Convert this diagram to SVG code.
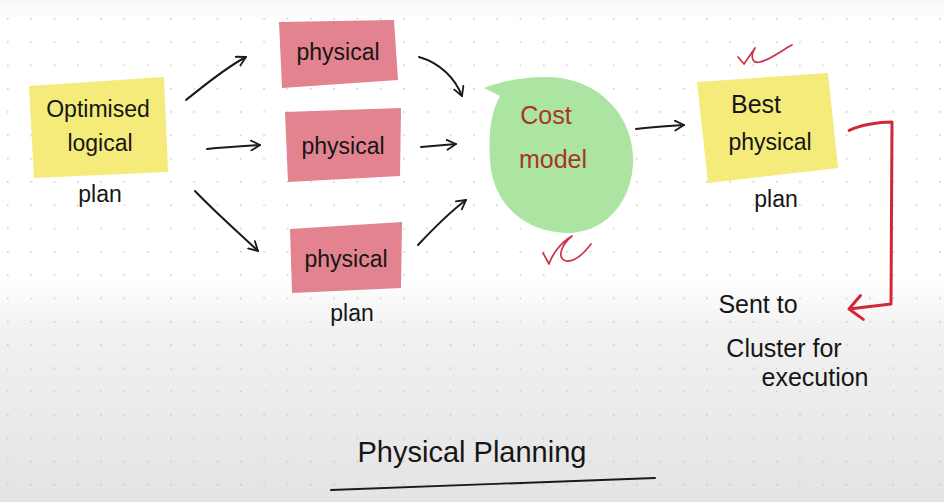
<svg xmlns="http://www.w3.org/2000/svg" width="944" height="502" viewBox="0 0 944 502">
<defs>
<linearGradient id="bg" x1="0" y1="0" x2="0" y2="1">
<stop offset="0" stop-color="#f7f7f7"/>
<stop offset="0.04" stop-color="#ffffff"/>
<stop offset="0.56" stop-color="#ffffff"/>
<stop offset="0.66" stop-color="#f1f1f1"/>
<stop offset="1" stop-color="#e4e4e4"/>
</linearGradient>
<pattern id="dots" x="7" y="18" width="23.3" height="23.3" patternUnits="userSpaceOnUse">
<circle cx="0.8" cy="0.8" r="0.9" fill="#c9c9c9"/>
</pattern>
<marker id="ah" viewBox="0 0 12 12" refX="10" refY="6" markerWidth="12" markerHeight="12" markerUnits="userSpaceOnUse" orient="auto">
<path d="M1,1 L10,6 L1,11" fill="none" stroke="#1a1a1a" stroke-width="1.8" stroke-linecap="round" stroke-linejoin="round"/>
</marker>
<marker id="ahr" viewBox="0 0 18 30" refX="16" refY="15" markerWidth="18" markerHeight="30" markerUnits="userSpaceOnUse" orient="auto">
<path d="M3,3 L16,15 L3,27" fill="none" stroke="#d0283a" stroke-width="3" stroke-linecap="round" stroke-linejoin="round"/>
</marker>
</defs>
<style>
.hand{font-family:"Liberation Sans","DejaVu Sans",sans-serif;font-size:23px;fill:#161616;text-anchor:middle}
.big{font-size:25px}
.title{font-size:29px}
.red{fill:#a8342c}
.ln{fill:none;stroke:#1a1a1a;stroke-width:2;stroke-linecap:round}
.chk{fill:none;stroke:#c8324a;stroke-width:1.7;stroke-linecap:round;stroke-linejoin:round}
</style>
<rect width="944" height="502" fill="url(#bg)"/>
<rect width="944" height="502" fill="url(#dots)"/>

<g id="optimised-logical-plan">
<path d="M29,86 L164,77 L168,172 L34,178 Z" fill="#f4eb7b"/>
<text class="hand" x="98" y="117">Optimised</text>
<text class="hand" x="100" y="151">logical</text>
<text class="hand" x="100" y="202">plan</text>
</g>

<g id="physical-1">
<path d="M279,22 L394,20 L398,80 L282,88 Z" fill="#e2838f"/>
<text class="hand" x="338" y="60">physical</text>
</g>
<g id="physical-2">
<path d="M285,112 L401,108 L400,176 L288,182 Z" fill="#e2838f"/>
<text class="hand" x="343" y="154">physical</text>
</g>
<g id="physical-3">
<path d="M290,229 L402,222 L401,288 L292,293 Z" fill="#e2838f"/>
<text class="hand" x="346" y="267">physical</text>
<text class="hand" x="352" y="321">plan</text>
</g>

<g id="cost-model">
<path d="M484,88 C500,82 520,77 548,77 C600,78 636,118 633,165 C630,208 600,234 565,233 C520,231 492,200 490,160 C488,130 492,110 500,96 Z" fill="#ace5a1"/>
<text class="hand big red" x="546" y="124">Cost</text>
<text class="hand big red" x="553" y="168">model</text>
<path class="chk" d="M543,253 L549,264 C552,255 560,243 572,236 C562,244 556,258 566,261 C575,262 585,252 591,244"/>
</g>

<g id="best-physical-plan">
<path d="M697,82 L828,73 L838,168 L708,183 Z" fill="#f4eb7b"/>
<text class="hand big" x="756" y="113">Best</text>
<text class="hand" x="770" y="150">physical</text>
<text class="hand" x="776" y="207">plan</text>
<path class="chk" d="M738,57 L744,64 L755,48 C750,56 752,64 760,62 C770,60 782,50 792,45"/>
</g>

<g id="sent-to-cluster">
<text class="hand big" x="758" y="313">Sent to</text>
<text class="hand big" x="784" y="357">Cluster for</text>
<text class="hand big" x="815" y="386">execution</text>
</g>

<g id="title">
<text class="hand title" x="472" y="462">Physical Planning</text>
<path class="ln" d="M331,490 C420,486 560,482 655,478"/>
</g>

<g id="connectors">
<path class="ln" d="M186,100 C205,85 225,68 246,57" marker-end="url(#ah)"/>
<path class="ln" d="M207,149 C225,147 243,146 260,145" marker-end="url(#ah)"/>
<path class="ln" d="M195,191 C215,212 238,232 258,251" marker-end="url(#ah)"/>
<path class="ln" d="M419,57 C440,63 455,78 462,96" marker-end="url(#ah)"/>
<path class="ln" d="M421,147 C433,146 445,145 456,144" marker-end="url(#ah)"/>
<path class="ln" d="M418,245 C432,230 450,212 466,200" marker-end="url(#ah)"/>
<path class="ln" d="M636,129 C652,127 668,126 684,125" marker-end="url(#ah)"/>
<path d="M848,131 C860,125 878,122 892,122 L891,304 L849,309" fill="none" stroke="#d0283a" stroke-width="3" stroke-linejoin="round" marker-end="url(#ahr)"/>
</g>
</svg>
